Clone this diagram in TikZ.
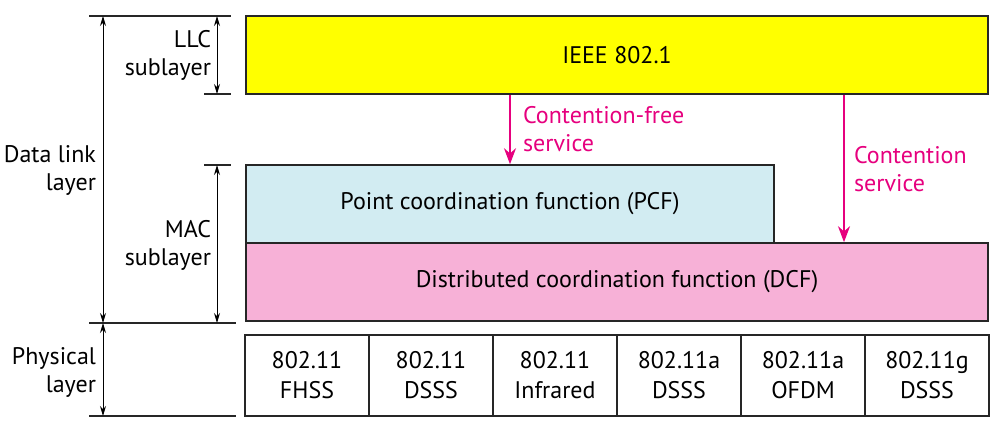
\documentclass[tikz,border=0pt]{standalone}
\usepackage{fontspec}
\setmainfont{PT Sans}
\usetikzlibrary{arrows.meta}
\definecolor{llcfill}{HTML}{FFFF00}
\definecolor{pcffill}{HTML}{D2ECF2}
\definecolor{dcffill}{HTML}{F7B1D7}
\definecolor{service}{HTML}{E6007E}

\begin{document}
\begin{tikzpicture}[
    x=0.5pt, y=-0.5pt,
    font=\fontsize{12}{14}\selectfont,
    layer/.style={draw=black!85, line width=0.8pt, inner sep=0pt,
                  minimum height=39pt},
    phy/.style={layer, minimum width=62pt, minimum height=40.5pt,
                align=center, font=\fontsize{12}{15}\selectfont},
    guide/.style={black!85, line width=0.6pt},
    span/.style={black, line width=0.5pt,
                 {Stealth[length=5pt, width=3pt]}-{Stealth[length=5pt, width=3pt]}},
    svc/.style={service, line width=1pt, -{Stealth[length=8pt, width=6pt]}},
    lab/.style={anchor=east, align=right},
    svclab/.style={anchor=west, align=left, text=service},
]
\useasboundingbox (0,0) rectangle (1007,434);

% ---- layer boxes ----
\node[layer, fill=llcfill, minimum width=371pt] (llc) at (617,55) {IEEE 802.1};
\node[layer, fill=pcffill, minimum width=264pt] (pcf) at (510,204)
    {Point coordination function (PCF)};
\node[layer, fill=dcffill, minimum width=371pt] (dcf) at (617,282)
    {Distributed coordination function (DCF)};

% physical layer cells
\foreach \i/\txt in {0/{802.11\\FHSS}, 1/{802.11\\DSSS}, 2/{802.11\\Infrared},
                     3/{802.11a\\DSSS}, 4/{802.11a\\OFDM}, 5/{802.11g\\DSSS}} {
    \node[phy] (phy\i) at ({307+124*\i},375.5) {\txt};
}

% ---- guide lines on the left ----
\coordinate (dlTop) at (89,16);
\coordinate (dlBot) at (89,323);
\coordinate (phBot) at (89,416);
\coordinate (llcBot) at (204,94);
\coordinate (macTop) at (204,165);
\draw[guide] (dlTop) -- ++(142,0);
\draw[guide] (llcBot) -- ++(27,0);
\draw[guide] (macTop) -- ++(27,0);
\draw[guide] (dlBot) -- ++(147,0);
\draw[guide] (phBot) -- ++(147,0);

% ---- span arrows ----
\draw[span] ([xshift=7pt]dlTop) -- ([xshift=7pt]dlBot);
\draw[span] ([xshift=7pt]dlBot) -- ([xshift=7pt]phBot);
\draw[span] (217,16) -- (217,94);
\draw[span] (217,165) -- (217,323);

\node[lab] (llcLab) at (218,55) {LLC\\sublayer};
\node[lab] (dlLab) at (103,170) {Data link\\layer};
\node[lab] (macLab) at (218,245) {MAC\\sublayer};
\node[lab] (phLab) at (103,372) {Physical\\layer};

% ---- services ----
\coordinate (cf) at (510,0);
\coordinate (cs) at (844,0);
\draw[svc] (llc.south -| cf) -- (pcf.north -| cf);
\draw[svc] (llc.south -| cs) -- (dcf.north -| cs);
\node[svclab] (cfLab) at (516,129) {Contention-free\\service};
\node[svclab] (csLab) at (847,169) {Contention\\service};
\end{tikzpicture}
\end{document}
